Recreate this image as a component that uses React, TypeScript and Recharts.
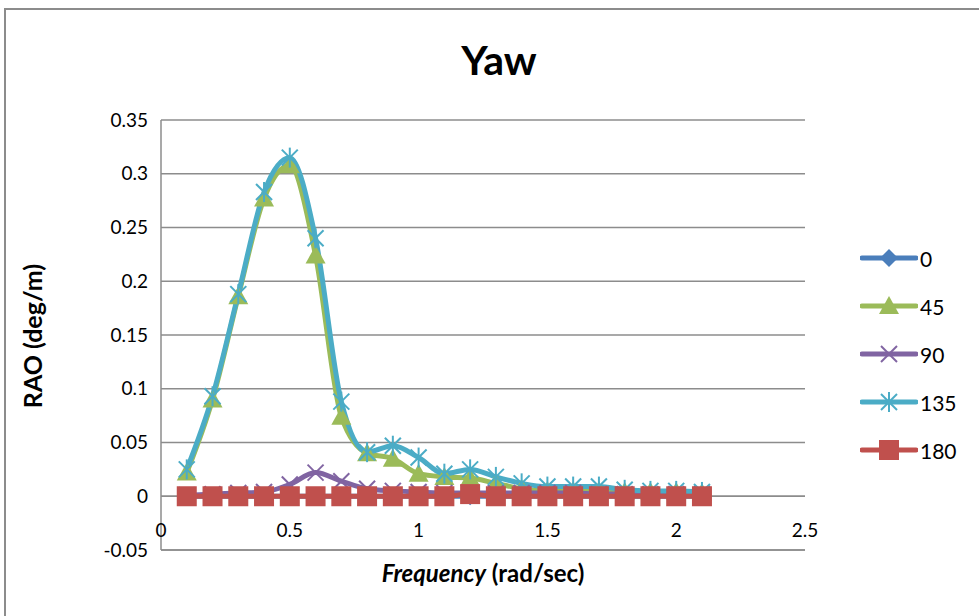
import React from "react";
import {
  CartesianGrid,
  Legend,
  Line,
  LineChart,
  ReferenceLine,
  XAxis,
  YAxis,
} from "recharts";

const freq = [0.1, 0.2, 0.3, 0.4, 0.5, 0.6, 0.7, 0.8, 0.9, 1.0, 1.1, 1.2, 1.3, 1.4, 1.5, 1.6, 1.7, 1.8, 1.9, 2.0, 2.1];
const rao0 = [0, 0, 0, 0, 0, 0, 0, 0, 0, 0, 0, 0, 0, 0, 0, 0, 0, 0, 0, 0, 0];
const rao45 = [0.022, 0.09, 0.186, 0.277, 0.308, 0.224, 0.074, 0.04, 0.035, 0.021, 0.018, 0.017, 0.012, 0.007, 0.005, 0.005, 0.005, 0.004, 0.004, 0.004, 0.003];
const rao90 = [0.001, 0.002, 0.003, 0.004, 0.011, 0.022, 0.014, 0.007, 0.005, 0.004, 0.003, 0.003, 0.003, 0.003, 0.003, 0.003, 0.002, 0.002, 0.002, 0.002, 0.002];
const rao135 = [0.025, 0.093, 0.188, 0.283, 0.315, 0.24, 0.088, 0.041, 0.047, 0.036, 0.021, 0.025, 0.018, 0.012, 0.009, 0.009, 0.009, 0.006, 0.005, 0.005, 0.004];
const rao180 = [0, 0, 0, 0, 0, 0, 0, 0, 0, 0, 0, 0.002, 0, 0, 0, 0, 0, 0, 0, 0, 0];

const xTicks = [0, 0.5, 1, 1.5, 2, 2.5];
const yTicks = [-0.05, 0, 0.05, 0.1, 0.15, 0.2, 0.25, 0.3, 0.35];

const data = freq.map((f, i) => ({
  f,
  s0: rao0[i],
  s45: rao45[i],
  s90: rao90[i],
  s135: rao135[i],
  s180: rao180[i],
}));

const FONT = "Lato, 'Open Sans', sans-serif";

const series = [
  { key: "s0", name: "0", color: "#4A7EBB", shape: "diamond" },
  { key: "s45", name: "45", color: "#9BBB59", shape: "triangle" },
  { key: "s90", name: "90", color: "#8064A2", shape: "x" },
  { key: "s135", name: "135", color: "#4BACC6", shape: "star" },
  { key: "s180", name: "180", color: "#C0504D", shape: "square" },
];

function Marker({ cx, cy, shape, color }: { cx: number; cy: number; shape: string; color: string }) {
  if (shape === "diamond") {
    return <polygon points={`${cx},${cy - 9} ${cx + 9},${cy} ${cx},${cy + 9} ${cx - 9},${cy}`} fill={color} />;
  }
  if (shape === "triangle") {
    return <polygon points={`${cx},${cy - 10} ${cx + 10},${cy + 8} ${cx - 10},${cy + 8}`} fill={color} />;
  }
  if (shape === "square") {
    return <rect x={cx - 10} y={cy - 10} width={20} height={20} fill={color} />;
  }
  const d = 8;
  return (
    <g stroke={color} strokeWidth={2}>
      <line x1={cx - d} y1={cy - d} x2={cx + d} y2={cy + d} />
      <line x1={cx - d} y1={cy + d} x2={cx + d} y2={cy - d} />
      {shape === "star" && <line x1={cx} y1={cy - 10} x2={cx} y2={cy + 10} />}
    </g>
  );
}

function XTick({ x, y, payload }: any) {
  return (
    <text x={x} y={y} dy={-13} textAnchor="middle" fontSize={19} fontFamily={FONT} fill="#000">
      {payload.value}
    </text>
  );
}

function LegendBox() {
  return (
    <div style={{ fontFamily: FONT, fontSize: 21 }}>
      {series.map((s) => (
        <div key={s.key} style={{ display: "flex", alignItems: "center", height: 48 }}>
          <svg width={58} height={24}>
            <line x1={2} y1={12} x2={56} y2={12} stroke={s.color} strokeWidth={5} strokeLinecap="round" />
            <Marker cx={29} cy={12} shape={s.shape} color={s.color} />
          </svg>
          <span style={{ marginLeft: 2 }}>{s.name}</span>
        </div>
      ))}
    </div>
  );
}

export default function App() {
  return (
    <div style={{ position: "absolute", left: 0, top: 0, width: 979, height: 616, overflow: "hidden", background: "#fff" }}>
      <div style={{ position: "absolute", left: 4, top: 8, width: 1000, height: 700, border: "2px solid #8c8c8c", boxSizing: "border-box" }} />
      <div style={{ position: "absolute", left: 0, top: 35, width: 998, textAlign: "center", fontFamily: FONT, fontWeight: 700, fontSize: 41 }}>
        Yaw
      </div>
      <div
        style={{
          position: "absolute",
          left: 32,
          top: 336,
          transform: "translate(-50%, -50%) rotate(-90deg)",
          whiteSpace: "nowrap",
          fontFamily: FONT,
          fontWeight: 700,
          fontSize: 25,
        }}
      >
        RAO (deg/m)
      </div>
      <div style={{ position: "absolute", left: 161, width: 644, top: 558, textAlign: "center", fontFamily: FONT, fontWeight: 700, fontSize: 24 }}>
        <i>Frequency</i> (rad/sec)
      </div>
      <LineChart
        width={979}
        height={616}
        data={data}
        margin={{ top: 120, right: 64, bottom: 36, left: 0 }}
        style={{ position: "absolute", left: 0, top: 0 }}
      >
        <CartesianGrid vertical={false} stroke="#8c8c8c" strokeWidth={1.5} />
        <XAxis
          dataKey="f"
          type="number"
          domain={[0, 2.5]}
          ticks={xTicks}
          height={30}
          tickLine={false}
          tickSize={0}
          tickMargin={0}
          axisLine={{ stroke: "#8c8c8c", strokeWidth: 1.5 }}
          tick={<XTick />}
        />
        <YAxis
          type="number"
          domain={[-0.05, 0.35]}
          ticks={yTicks}
          width={161}
          tickLine={false}
          tickSize={6}
          tickMargin={7}
          axisLine={{ stroke: "#8c8c8c", strokeWidth: 1.5 }}
          tick={{ fontSize: 19, fontFamily: FONT, fill: "#000" }}
        />
        <ReferenceLine y={0} stroke="#8c8c8c" strokeWidth={1.5} />
        <Legend
          layout="vertical"
          align="right"
          verticalAlign="top"
          content={<LegendBox />}
          wrapperStyle={{ left: 860, top: 234, width: 110 }}
        />
        {series.map((s) => (
          <Line
            key={s.key}
            dataKey={s.key}
            name={s.name}
            type="monotone"
            stroke={s.color}
            strokeWidth={5}
            isAnimationActive={false}
            dot={(p: any) => <Marker key={`${s.key}-${p.index}`} cx={p.cx} cy={p.cy} shape={s.shape} color={s.color} />}
            activeDot={false}
          />
        ))}
      </LineChart>
    </div>
  );
}
